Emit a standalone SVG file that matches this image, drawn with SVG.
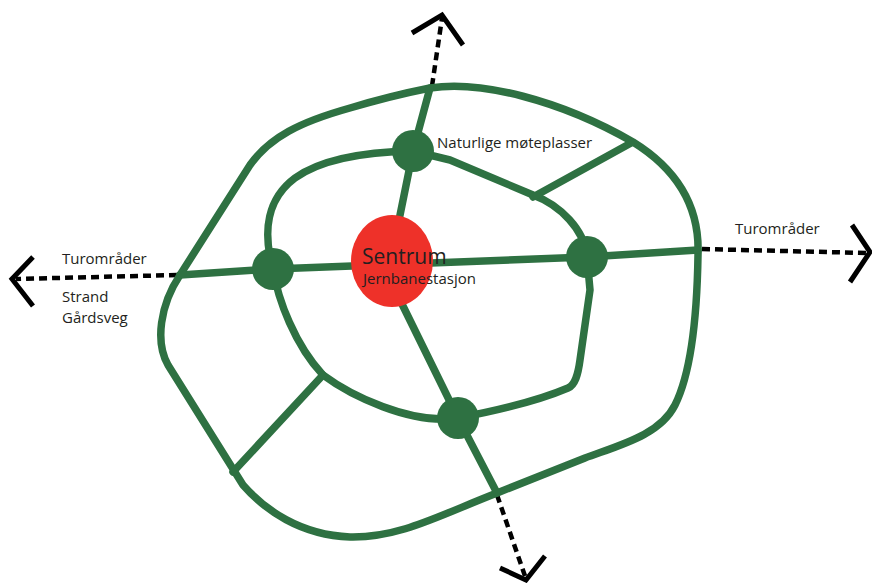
<svg xmlns="http://www.w3.org/2000/svg" width="872" height="583" viewBox="0 0 872 583">
<style>
.road{fill:none;stroke:#2e7142;stroke-width:7.5;stroke-linejoin:round;stroke-linecap:round}
.dot{fill:none;stroke:#000;stroke-width:4.5;stroke-dasharray:8 5}
.chev{fill:none;stroke:#000;stroke-width:5;stroke-linejoin:miter}
.node{fill:#2e7142}
.lbl{font-family:"Open Sans","Liberation Sans",sans-serif;fill:#231f20;font-size:15px}
</style>
<rect width="872" height="583" fill="#fff"/>
<g id="connectors">
<path class="dot" d="M432 86 L442 18"/>
<path class="dot" d="M177 275 L16 279"/>
<path class="dot" d="M702 249 L866 253"/>
<path class="dot" d="M497 495 L525 576"/>
<path class="chev" d="M412 33 L442 15 L463 45"/>
<path class="chev" d="M33 257 L12 279 L33 306"/>
<path class="chev" d="M852 225 L870 252 L850 282"/>
<path class="chev" d="M500 568 L526 580 L545 556"/>
<path class="road" d="M430 88 C480 80 560 100 633 142 C675 168 700 205 698 255 C697 320 690 375 675 405 C660 435 620 445 585 458 L497 493 C440 515 400 538 350 537 C300 535 265 510 243 485 L168 365 C155 342 160 305 180 275 L250 165 C270 137 300 122 350 108 C380 99 405 93 430 88 Z"/>
<path class="road" d="M413 151 C360 152 320 160 295 178 C268 198 262 230 273 269 C278 300 295 345 323 375 C350 395 410 425 458 418 C500 410 540 400 568 388 C575 385 578 375 580 360 L590 290 L587 257 C585 230 560 205 533 195 L450 160 L413 151"/>
<path class="road" d="M180 275 L273 269 L587 257 L698 250"/>
<path class="road" d="M430 88 L413 151 L398 225"/>
<path class="road" d="M400 300 L458 418 L497 493"/>
<path class="road" d="M533 197 L631 143"/>
<path class="road" d="M323 375 L233 472"/>
</g>
<g id="sentrum">
<ellipse cx="392" cy="261" rx="41" ry="46" fill="#ee3129"/>
<text class="lbl" x="362" y="264" style="font-size:21px">Sentrum</text>
<text class="lbl" x="363" y="284">Jernbanestasjon</text>
</g>
<g id="node-top"><circle class="node" cx="413" cy="151" r="21"/>
<text class="lbl" x="437" y="148">Naturlige møteplasser</text></g>
<g id="node-left"><circle class="node" cx="273" cy="269" r="21"/></g>
<g id="node-right"><circle class="node" cx="587" cy="257" r="21"/></g>
<g id="node-bottom"><circle class="node" cx="458" cy="418" r="21"/></g>
<g id="label-west">
<text class="lbl" x="62" y="264">Turområder</text>
<text class="lbl" x="62" y="302">Strand</text>
<text class="lbl" x="62" y="323">Gårdsveg</text>
</g>
<g id="label-east"><text class="lbl" x="735" y="234">Turområder</text></g>
</svg>
